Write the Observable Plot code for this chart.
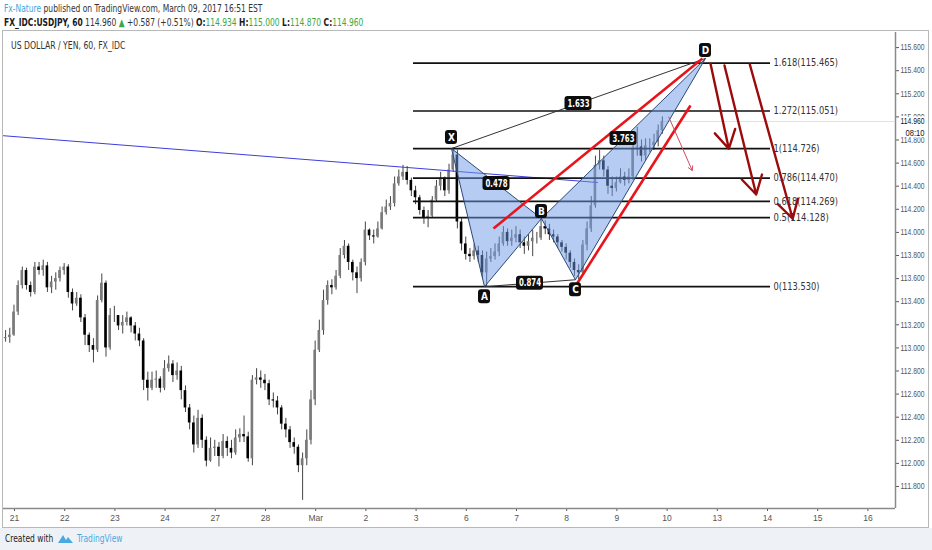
<!DOCTYPE html>
<html><head><meta charset="utf-8">
<script src="https://cdn.jsdelivr.net/npm/d3@7"></script>
<script src="https://cdn.jsdelivr.net/npm/@observablehq/plot@0.6"></script>
<style>
body{margin:0;width:932px;height:550px;overflow:hidden;background:#fff;font-family:"DejaVu Sans Condensed","Liberation Sans",Arial,sans-serif;position:relative}
.sx{transform:scaleX(0.8);transform-origin:0 0;white-space:nowrap}
.hd{position:absolute;left:4px;font-size:10.5px;color:#333}
#h1{top:2px}
#h2{top:16px}
.g{color:#3aa845}
.b{font-weight:bold;color:#1a1a1a}
#box{position:absolute;left:2px;top:30px;width:925px;height:496px;border:1px solid #b8b8b8;background:#fff}
#chart svg{display:block;position:relative;max-width:none !important;overflow:visible}
#ttl{position:absolute;left:8px;top:9px;font-size:10px;color:#333;transform:scaleX(0.86)}
#foot{position:absolute;left:0;top:528px;width:932px;height:22px;background:#eef2f6;font-size:10.5px;color:#222}
</style></head><body>
<div class="hd sx" id="h1"><span style="color:#3da5dc">Fx-Nature</span> published on TradingView.com, March 09, 2017 16:51 EST</div>
<div class="hd sx" id="h2"><span class="b">FX_IDC:USDJPY, 60</span> 114.960 <span class="g">&#9650;</span> +0.587 (+0.51%) <span class="b">O:</span><span class="g">114.934</span> <span class="b">H:</span><span class="g">115.000</span> <span class="b">L:</span><span class="g">114.870</span> <span class="b">C:</span><span class="g">114.960</span></div>
<div id="box"><div id="chart"></div><div id="ttl" class="sx">US DOLLAR / YEN, 60, FX_IDC</div></div>
<div id="foot"><span class="sx" style="position:absolute;left:5px;top:4px">Created with</span>
<svg style="position:absolute;left:57px;top:4px" width="17" height="13" viewBox="0 0 17 13"><path d="M1 11 L6 3 L9 8 L11 5 L16 11 Z" fill="#4aa9e0"/></svg>
<span class="sx" style="position:absolute;left:77px;top:4px;color:#4aa9e0">TradingView</span></div>
<script>
// ---- data ----
const dayLabels = ["21","22","23","24","27","28","Mar","2","3","6","7","8","9","10","13","14","15","16"];
const yTicks = [111.8,112.0,112.2,112.4,112.6,112.8,113.0,113.2,113.4,113.6,113.8,114.0,114.2,114.4,114.6,114.8,115.0,115.2,115.4,115.6];
const firstOpen = 113.08;
const closes = [113.09,113.11,113.31,113.54,113.67,113.54,113.48,113.70,113.67,113.71,113.52,113.57,113.60,113.67,113.70,113.48,113.38,113.43,113.26,113.11,
113.02,112.98,113.41,113.56,113.00,113.28,113.28,113.19,113.22,113.26,113.19,113.12,113.06,112.72,112.65,112.72,112.73,112.65,112.82,112.86,
112.76,112.80,112.63,112.48,112.35,112.16,112.39,112.20,112.02,112.13,112.14,112.06,112.19,112.13,112.09,112.22,112.25,112.23,112.04,112.72,
112.74,112.72,112.69,112.55,112.54,112.48,112.34,112.29,112.18,112.14,111.98,112.04,112.20,112.55,112.98,113.15,113.41,113.54,113.52,113.62,
113.80,113.88,113.74,113.65,113.60,113.74,114.02,113.97,113.96,114.03,114.17,114.22,114.25,114.42,114.48,114.52,114.45,114.36,114.30,114.19,
114.12,114.14,114.28,114.40,114.47,114.36,114.54,114.67,114.09,113.90,113.81,113.79,113.84,113.80,113.65,113.77,113.79,113.83,113.90,114.00,
113.92,113.95,113.98,113.91,113.88,113.92,113.95,113.95,114.05,114.03,113.98,113.96,113.91,113.87,113.82,113.74,113.67,113.65,113.89,114.03,
114.23,114.58,114.62,114.54,114.40,114.38,114.43,114.48,114.45,114.48,114.73,114.74,114.66,114.75,114.75,114.78,114.88,114.96];
const highs = [113.15,113.17,113.37,113.58,113.70,113.69,113.57,113.74,113.74,113.76,113.74,113.62,113.65,113.70,113.73,113.72,113.51,113.48,113.46,113.29,
113.13,113.08,113.45,113.64,113.58,113.34,113.36,113.27,113.28,113.31,113.27,113.22,113.17,113.08,112.79,112.79,112.80,112.75,112.89,112.93,
112.89,112.87,112.84,112.67,112.51,112.41,112.46,112.42,112.23,112.22,112.20,112.18,112.25,112.23,112.20,112.29,112.30,112.41,112.27,112.76,
112.82,112.80,112.77,112.72,112.61,112.58,112.50,112.39,112.32,112.22,112.16,112.09,112.29,112.63,113.06,113.24,113.50,113.58,113.59,113.67,
113.86,113.93,113.90,113.76,113.70,113.77,114.09,114.03,114.02,114.09,114.22,114.28,114.31,114.48,114.54,114.58,114.57,114.47,114.40,114.32,
114.22,114.19,114.31,114.45,114.52,114.48,114.59,114.73,114.71,114.12,113.96,113.86,113.90,113.88,113.84,113.83,113.86,113.90,113.96,114.05,
114.03,114.02,114.05,114.02,113.96,113.98,114.02,114.00,114.12,114.10,114.07,114.02,113.98,113.93,113.90,113.84,113.77,113.72,113.93,114.09,
114.31,114.66,114.71,114.66,114.57,114.48,114.48,114.55,114.52,114.55,114.80,114.91,114.80,114.81,114.81,114.85,114.93,115.00];
const lows = [113.05,113.04,113.10,113.28,113.51,113.50,113.44,113.46,113.63,113.62,113.48,113.47,113.50,113.57,113.63,113.43,113.32,113.36,113.22,113.02,
112.96,112.87,112.96,113.39,112.92,112.98,113.22,113.15,113.12,113.19,113.13,113.06,113.01,112.63,112.54,112.63,112.65,112.61,112.63,112.79,
112.70,112.72,112.55,112.44,112.29,112.09,112.13,112.13,111.97,112.01,112.06,111.97,112.04,112.06,112.04,112.07,112.18,112.18,112.01,111.98,
112.68,112.65,112.63,112.50,112.48,112.42,112.29,112.22,112.13,112.08,111.92,111.68,111.98,112.16,112.50,112.96,113.11,113.37,113.46,113.50,
113.60,113.77,113.67,113.58,113.47,113.57,113.71,113.93,113.90,113.95,114.02,114.15,114.19,114.22,114.40,114.45,114.41,114.31,114.24,114.15,
114.07,114.04,114.12,114.26,114.36,114.31,114.33,114.52,114.03,113.84,113.76,113.74,113.76,113.74,113.60,113.53,113.74,113.76,113.79,113.88,
113.88,113.88,113.91,113.86,113.81,113.84,113.79,113.90,113.93,113.98,113.93,113.91,113.86,113.83,113.76,113.69,113.62,113.59,113.64,113.84,
114.00,114.21,114.54,114.48,114.33,114.31,114.35,114.42,114.40,114.42,114.45,114.66,114.61,114.62,114.69,114.71,114.74,114.85];
const lastPrice = 114.960;
const countdown = "08:10";
const fibRatios = ["1.618","1.272","1","0.786","0.618","0.5","0"];
const fibPrices = [115.465,115.051,114.726,114.470,114.269,114.128,113.530];
const pointNames = ["X","A","B","C","D"];
const pointDays = [8.705,9.363,10.498,11.175,13.765];
const pointPrices = [114.726,113.53,114.12,113.59,115.506];
const ratioLabels = ["1.633","0.478","3.763","0.874"];
const ratioPairs = [[0,4],[0,2],[2,4],[1,3]];
const trendDays = [-0.219,11.614];
const trendPrices = [114.837,114.432];
const redDays1 = [9.542,11.195], redPrices1 = [114.034,113.549];
const redDays2 = [13.705,13.466], redPrices2 = [115.506,115.099];
const arrowDays1 = [13.865,14.143,14.648], arrowPrices1 = [115.460,115.445,115.454];
const arrowDays2 = [14.229,14.775,15.502], arrowPrices2 = [114.724,114.328,114.118];
const thinArrow = {d1:13.034,p1:114.998,d2:13.500,p2:114.536};

// ---- layout ----
const W = 929, H = 496, mL = 0, mR = 37, mT = 1, mB = 19;
const xDom = [-0.2191, 17.5498], yDom = [111.6095, 115.7307];
const kx = (W - mL - mR) / (xDom[1] - xDom[0]);
const ky = (H - mT - mB) / (yDom[1] - yDom[0]);
const barStart = -0.1775, barStep = 1/12, bodyHalf = 1.3 / kx;

const bars = closes.map((c, i) => {
  const o = i === 0 ? firstOpen : closes[i-1];
  return {t: barStart + i*barStep, o, c, h: Math.max(highs[i], o, c), l: Math.min(lows[i], o, c), up: c >= o};
});
const pts = pointNames.map((n, i) => ({n, x: pointDays[i], y: pointPrices[i]}));
const tri1 = [pts[0], pts[1], pts[2], pts[0]];
const tri2 = [pts[2], pts[3], pts[4], pts[2]];
const ratios = ratioLabels.map((s, i) => {
  const [a, b] = ratioPairs[i];
  return {s, x: (pts[a].x + pts[b].x)/2, y: (pts[a].y + pts[b].y)/2};
});
const letterDy = [-11, 10, -7, 10, -8];
const letters = pts.map((p, i) => ({n: p.n, x: p.x, y: p.y - letterDy[i]/ky}));
const fib = fibPrices.map((p, i) => ({p, s: `${fibRatios[i]}(${p.toFixed(3)})`}));
const arrows = arrowDays1.map((d, i) => ({x1: d, y1: arrowPrices1[i], x2: arrowDays2[i], y2: arrowPrices2[i]}));
const reds = redDays1.map((d, i) => ({x1: d, y1: redPrices1[i], x2: redDays2[i], y2: redPrices2[i]}));
const fibX1 = 7.948, fibX2 = 15.06, fibLabelX = 15.12;

const box = (data, w, h) => Plot.rect(data, {
  x1: d => d.x - w/2/kx, x2: d => d.x + w/2/kx,
  y1: d => d.y - h/2/ky, y2: d => d.y + h/2/ky, rx: 3, fill: "#0d0d0d"
});

const plot = Plot.plot({
  width: W, height: H, marginLeft: mL, marginRight: mR, marginTop: mT, marginBottom: mB,
  style: {fontFamily: "'Liberation Sans',Arial,sans-serif", fontSize: "8.5px", color: "#555", background: "transparent", overflow: "visible", maxWidth: "none"},
  x: {domain: xDom, axis: "bottom", ticks: d3.range(dayLabels.length), tickFormat: i => dayLabels[i], tickSize: 3, tickPadding: 3, label: null},
  y: {domain: yDom, axis: "right", ticks: yTicks, tickFormat: d => d.toFixed(3), tickSize: 3, tickPadding: 2, label: null},
  marks: [
    Plot.ruleY([yDom[0]], {stroke: "#8a8a8a", strokeWidth: 1.5}),
    Plot.ruleX([xDom[1]], {stroke: "#8a8a8a", strokeWidth: 1.5}),
    Plot.ruleY([lastPrice], {x1: bars[bars.length-1].t, x2: xDom[1], stroke: "#e2e2e2"}),
    // candles
    Plot.ruleX(bars, {x: "t", y1: "l", y2: "h", stroke: "#444", strokeWidth: 1}),
    Plot.rect(bars, {x1: d => d.t - bodyHalf, x2: d => d.t + bodyHalf, y1: "o", y2: "c", fill: d => d.up ? "#7a7a7a" : "#000"}),
    // trend line
    Plot.line(trendDays.map((d, i) => ({x: d, y: trendPrices[i]})), {x: "x", y: "y", stroke: "#3d3ddb", strokeWidth: 1}),
    // fib levels
    Plot.ruleY(fib, {y: "p", x1: fibX1, x2: fibX2, stroke: "#111", strokeWidth: 1.7}),
    Plot.text(fib, {x: fibLabelX, y: "p", text: "s", textAnchor: "start", fill: "#333", fontSize: 10, fontFamily: "'DejaVu Sans Condensed','Liberation Sans',sans-serif"}),
    // harmonic triangles
    Plot.line(tri1, {x: "x", y: "y", fill: "#6e9ae6", fillOpacity: 0.5, stroke: "#2b4a7a", strokeWidth: 1}),
    Plot.line(tri2, {x: "x", y: "y", fill: "#6e9ae6", fillOpacity: 0.5, stroke: "#2b4a7a", strokeWidth: 1}),
    Plot.link([{a: pts[0], b: pts[4]}, {a: pts[1], b: pts[3]}], {x1: d => d.a.x, y1: d => d.a.y, x2: d => d.b.x, y2: d => d.b.y, stroke: "#333", strokeWidth: 1}),
    // red channel lines
    Plot.link(reds, {x1: "x1", y1: "y1", x2: "x2", y2: "y2", stroke: "#e8141c", strokeWidth: 2.6}),
    // arrows
    Plot.arrow(arrows, {x1: "x1", y1: "y1", x2: "x2", y2: "y2", stroke: "#9b0b0b", strokeWidth: 2.4, headLength: 13}),
    Plot.arrow([thinArrow], {x1: "d1", y1: "p1", x2: "d2", y2: "p2", stroke: "#cf4a63", strokeWidth: 1, headLength: 7}),
    // labels
    box(ratios, 27, 14),
    Plot.text(ratios, {x: "x", y: "y", text: "s", fill: "white", fontSize: 10, fontWeight: "bold", fontFamily: "'DejaVu Sans Condensed','Liberation Sans',sans-serif"}),
    box(letters, 12, 14),
    Plot.text(letters, {x: "x", y: "y", text: "n", fill: "white", fontSize: 10, fontWeight: "bold", fontFamily: "'DejaVu Sans Condensed','Liberation Sans',sans-serif"}),
    // last price label on axis
    Plot.text([lastPrice], {x: xDom[1], y: d => d, text: d => d.toFixed(3), dx: 5, textAnchor: "start", fill: "#111", stroke: "white", strokeWidth: 4, fontSize: 8.5}),
    Plot.text([countdown], {x: xDom[1], y: () => lastPrice, text: d => d, dx: 10, dy: 12, textAnchor: "start", fill: "#111", stroke: "white", strokeWidth: 3, fontSize: 8.5})
  ]
});
plot.style.maxWidth = "none";
// narrow the texts to the condensed widths of the original
plot.querySelectorAll("text").forEach(t => {
  const s = t.textContent;
  let len = null;
  if (/^1\d\d\.\d{3}$/.test(s)) len = 24;
  else if (s.includes("(")) len = s.length * 4.6;
  else if (/^\d\.\d{3}$/.test(s)) len = 22;
  else if (s === countdown) len = 19;
  if (len) { t.setAttribute("textLength", len); t.setAttribute("lengthAdjust", "spacingAndGlyphs"); }
});
document.getElementById("chart").appendChild(plot);
</script>
</body></html>
